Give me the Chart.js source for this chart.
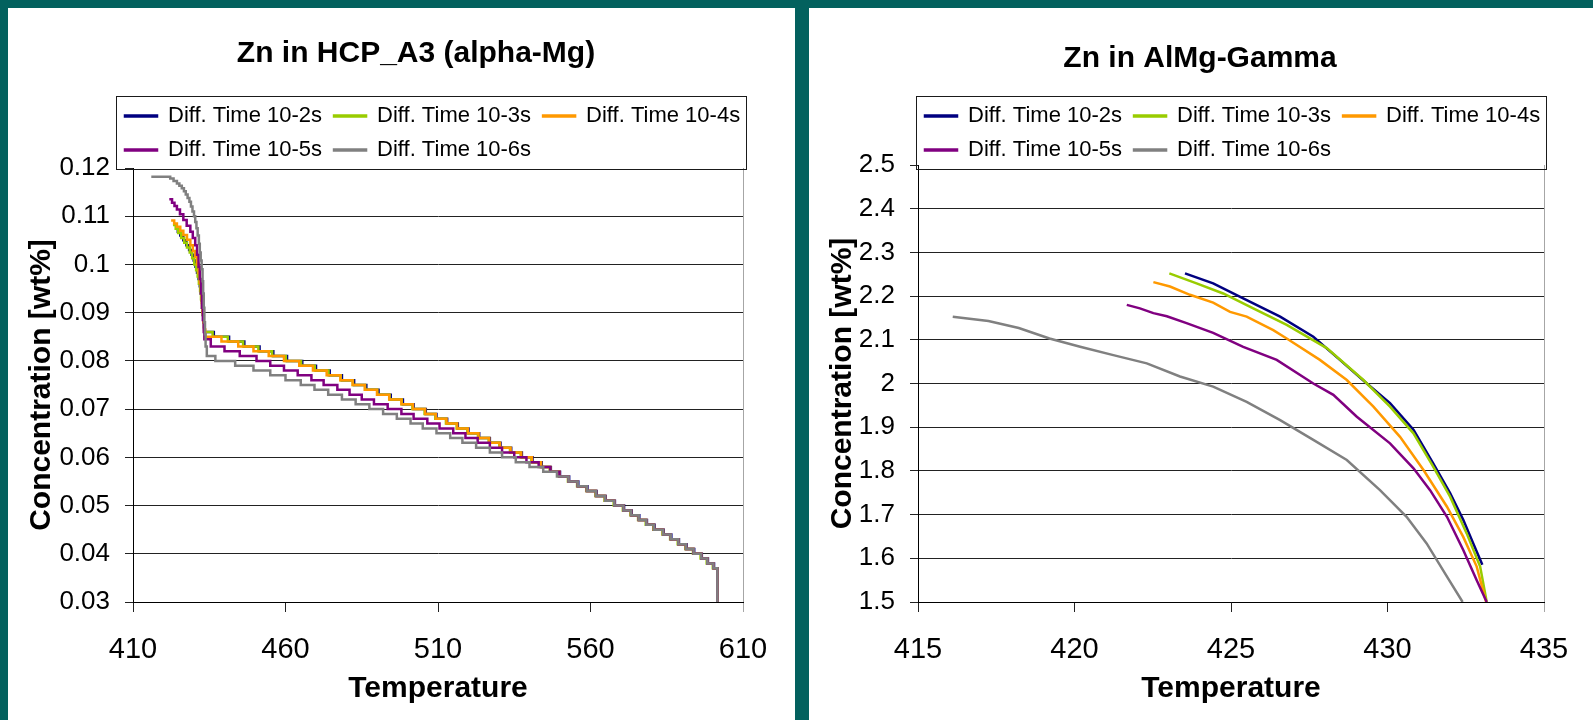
<!DOCTYPE html>
<html>
<head>
<meta charset="utf-8">
<script src="https://cdn.jsdelivr.net/npm/chart.js@4.4.0/dist/chart.umd.min.js"></script>
<style>
  html, body { margin: 0; padding: 0; background: #03615e; }
  body { width: 1593px; height: 720px; position: relative; overflow: hidden; }
  .panel { position: absolute; top: 8px; height: 712px; background: #fff; }
  #leftPanel { left: 8px; width: 787px; }
  #rightPanel { left: 809px; width: 784px; }
  canvas { display: block; }
</style>
</head>
<body>
<div class="panel" id="leftPanel"><canvas id="hcpChart" width="787" height="712"></canvas></div>
<div class="panel" id="rightPanel"><canvas id="gammaChart" width="784" height="712"></canvas></div>
<script>
const seriesNames = ['Diff. Time 10-2s', 'Diff. Time 10-3s', 'Diff. Time 10-4s', 'Diff. Time 10-5s', 'Diff. Time 10-6s'];
const seriesColors = ['#000080', '#99cc00', '#ff9900', '#800080', '#808080'];

// Zn in HCP_A3 (alpha-Mg): temperature where each concentration step starts
const hcpTemp2s = [423.9, 424.7, 425.5, 426.5, 427.5, 428.4, 429.2, 429.9, 430.5, 431, 431.5, 431.9, 432.2, 432.5, 432.7, 432.9, 433.1, 433.3, 433.5, 436.5, 441.5, 446.5, 451.5, 456, 460.5, 465.5, 470, 474.5, 478.5, 482.5, 486.5, 490.5, 494.5, 498.5, 502, 506, 509.5, 513, 516.5, 520, 523.5, 527, 530.5, 534, 537.5, 541, 544, 547, 550, 553, 556, 559, 562, 565, 568, 571, 573.5, 576, 578.5, 581, 584, 586.5, 589, 591.5, 594, 596.5, 598.5, 600.5, 601.6];
const hcpConc2s = [0.1075, 0.1068, 0.106, 0.105, 0.104, 0.103, 0.102, 0.1008, 0.0995, 0.0983, 0.097, 0.0955, 0.094, 0.0925, 0.091, 0.0895, 0.088, 0.087, 0.086, 0.085, 0.084, 0.083, 0.082, 0.081, 0.080, 0.079, 0.078, 0.077, 0.076, 0.075, 0.074, 0.073, 0.072, 0.071, 0.070, 0.069, 0.068, 0.067, 0.066, 0.065, 0.064, 0.063, 0.062, 0.061, 0.060, 0.059, 0.058, 0.057, 0.056, 0.055, 0.054, 0.053, 0.052, 0.051, 0.050, 0.049, 0.048, 0.047, 0.046, 0.045, 0.044, 0.043, 0.042, 0.041, 0.040, 0.039, 0.038, 0.037, 0.030];

const hcpTemp3s = [423.1, 424, 424.8, 425.8, 426.8, 427.7, 428.6, 429.4, 430.1, 430.7, 431.2, 431.6, 432, 432.3, 432.6, 432.85, 433.1, 433.3, 433.5, 436.1, 441.1, 446.1, 451.1, 455.6, 460.1, 465.1, 469.6, 474.1, 478.1, 482.1, 486.1, 490.1, 494.1, 498.1, 501.6, 505.6, 509.1, 512.6, 516.1, 519.6, 523.1, 526.6, 530.1, 533.6, 537.1, 540.6, 543.6, 546.6, 549.6, 552.6, 555.6, 558.6, 561.6, 564.6, 567.6, 570.6, 573.1, 575.6, 578.1, 580.6, 583.6, 586.1, 588.6, 591.1, 593.6, 596.1, 598.1, 600.1, 601.6];
const hcpConc3s = [0.1082, 0.1074, 0.1065, 0.1055, 0.1045, 0.1035, 0.1025, 0.1013, 0.100, 0.0988, 0.0975, 0.096, 0.0945, 0.0928, 0.091, 0.0895, 0.088, 0.087, 0.086, 0.085, 0.084, 0.083, 0.082, 0.081, 0.080, 0.079, 0.078, 0.077, 0.076, 0.075, 0.074, 0.073, 0.072, 0.071, 0.070, 0.069, 0.068, 0.067, 0.066, 0.065, 0.064, 0.063, 0.062, 0.061, 0.060, 0.059, 0.058, 0.057, 0.056, 0.055, 0.054, 0.053, 0.052, 0.051, 0.050, 0.049, 0.048, 0.047, 0.046, 0.045, 0.044, 0.043, 0.042, 0.041, 0.040, 0.039, 0.038, 0.037, 0.030];

const hcpTemp4s = [422.5, 423.5, 424.4, 425.5, 426.5, 427.7, 428.8, 429.6, 430.4, 431, 431.5, 431.9, 432.3, 432.55, 432.8, 433.05, 433.3, 433.7, 439, 444.5, 449.5, 454.5, 459.5, 464.5, 469, 473.5, 478, 482, 486, 490, 494, 498, 501.8, 505.8, 509.3, 512.8, 516.3, 519.8, 523.3, 526.8, 530.3, 533.8, 537.3, 540.8, 543.8, 546.8, 549.8, 552.8, 555.8, 558.8, 561.8, 564.8, 567.8, 570.8, 573.3, 575.8, 578.3, 580.8, 583.8, 586.3, 588.8, 591.3, 593.8, 596.3, 598.3, 600.3, 601.6];
const hcpConc4s = [0.1091, 0.1085, 0.1078, 0.107, 0.1061, 0.1051, 0.104, 0.1028, 0.1016, 0.100, 0.0982, 0.0962, 0.094, 0.092, 0.090, 0.088, 0.0865, 0.085, 0.084, 0.083, 0.082, 0.081, 0.080, 0.079, 0.078, 0.077, 0.076, 0.075, 0.074, 0.073, 0.072, 0.071, 0.070, 0.069, 0.068, 0.067, 0.066, 0.065, 0.064, 0.063, 0.062, 0.061, 0.060, 0.059, 0.058, 0.057, 0.056, 0.055, 0.054, 0.053, 0.052, 0.051, 0.050, 0.049, 0.048, 0.047, 0.046, 0.045, 0.044, 0.043, 0.042, 0.041, 0.040, 0.039, 0.038, 0.037, 0.030];

const hcpTemp5s = [421.9, 422.8, 423.6, 424.4, 425.4, 426.5, 427.6, 428.8, 429.6, 430.4, 431, 431.5, 431.9, 432.3, 432.6, 432.9, 433.2, 433.4, 435.5, 440, 445, 450.5, 455, 459.5, 464, 468.5, 472.5, 477, 481, 485, 489, 493.5, 498, 502, 506.5, 510.5, 515, 519, 523, 527, 531, 535, 539, 543, 546.8, 549.8, 552.8, 555.8, 558.8, 561.8, 564.8, 567.8, 570.8, 573.3, 575.8, 578.3, 580.8, 583.8, 586.3, 588.8, 591.3, 593.8, 596.3, 598.3, 600.3, 601.6];
const hcpConc5s = [0.1135, 0.1128, 0.1121, 0.1114, 0.1104, 0.1092, 0.108, 0.1068, 0.1055, 0.104, 0.102, 0.0995, 0.097, 0.094, 0.091, 0.0885, 0.086, 0.0845, 0.083, 0.082, 0.081, 0.080, 0.079, 0.078, 0.077, 0.076, 0.075, 0.074, 0.073, 0.072, 0.071, 0.070, 0.069, 0.068, 0.067, 0.066, 0.065, 0.064, 0.063, 0.062, 0.061, 0.060, 0.059, 0.058, 0.057, 0.056, 0.055, 0.054, 0.053, 0.052, 0.051, 0.050, 0.049, 0.048, 0.047, 0.046, 0.045, 0.044, 0.043, 0.042, 0.041, 0.040, 0.039, 0.038, 0.037, 0.030];

const hcpTemp6s = [416, 422.2, 423.3, 424.4, 425.2, 426, 426.7, 427.3, 427.9, 428.5, 429, 429.5, 430, 430.4, 430.8, 431.2, 431.6, 431.9, 432.2, 432.5, 432.8, 433, 433.2, 433.4, 433.6, 433.8, 434.2, 437, 443.5, 449.5, 455, 460, 465, 469.5, 474, 478.5, 483, 487.5, 492, 496.5, 501, 505, 509.5, 514, 518, 522.5, 527, 531, 535.5, 540, 544.5, 549, 552.8, 555.8, 558.8, 561.8, 564.8, 567.8, 570.8, 573.3, 575.8, 578.3, 580.8, 583.8, 586.3, 588.8, 591.3, 593.8, 596.3, 598.3, 600.3, 601.6];
const hcpConc6s = [0.1182, 0.1178, 0.1173, 0.1168, 0.1163, 0.1158, 0.1152, 0.1145, 0.1138, 0.113, 0.112, 0.111, 0.110, 0.1088, 0.1075, 0.106, 0.1043, 0.1025, 0.1008, 0.099, 0.0965, 0.094, 0.091, 0.088, 0.0855, 0.083, 0.081, 0.080, 0.079, 0.078, 0.077, 0.076, 0.075, 0.074, 0.073, 0.072, 0.071, 0.070, 0.069, 0.068, 0.067, 0.066, 0.065, 0.064, 0.063, 0.062, 0.061, 0.060, 0.059, 0.058, 0.057, 0.056, 0.055, 0.054, 0.053, 0.052, 0.051, 0.050, 0.049, 0.048, 0.047, 0.046, 0.045, 0.044, 0.043, 0.042, 0.041, 0.040, 0.039, 0.038, 0.037, 0.030];

const hcpXTicks = [410, 460, 510, 560, 610];
const hcpXLabels = ['410', '460', '510', '560', '610'];
const hcpYTicks = [0.03, 0.04, 0.05, 0.06, 0.07, 0.08, 0.09, 0.1, 0.11, 0.12];
const hcpYLabels = ['0.03', '0.04', '0.05', '0.06', '0.07', '0.08', '0.09', '0.1', '0.11', '0.12'];

// Zn in AlMg-Gamma
const gammaTemp2s = [423.53, 424.43, 425.39, 426.57, 427.63, 428.48, 429.34, 430.08, 430.83, 431.46, 432.0, 432.42, 432.74, 433.03];
const gammaConc2s = [2.252, 2.229, 2.195, 2.153, 2.107, 2.054, 2.000, 1.955, 1.894, 1.817, 1.749, 1.688, 1.634, 1.585];
const gammaTemp3s = [423.03, 423.9, 424.75, 425.71, 426.78, 428.06, 429.23, 430.08, 430.83, 431.46, 432.0, 432.53, 432.96, 433.17];
const gammaConc3s = [2.252, 2.229, 2.206, 2.172, 2.134, 2.081, 2.008, 1.947, 1.886, 1.810, 1.741, 1.657, 1.581, 1.50];
const gammaTemp4s = [422.52, 423.05, 423.69, 424.43, 424.97, 425.5, 426.35, 426.78, 427.84, 428.7, 429.55, 430.4, 431.15, 431.9, 432.42, 432.85, 433.15];
const gammaConc4s = [2.232, 2.222, 2.203, 2.185, 2.164, 2.153, 2.122, 2.103, 2.054, 2.008, 1.947, 1.878, 1.802, 1.718, 1.649, 1.581, 1.50];
const gammaTemp5s = [421.67, 422.09, 422.52, 422.95, 423.58, 424.43, 425.39, 426.46, 427.63, 428.27, 429.02, 430.08, 430.83, 431.36, 431.9, 432.42, 432.85, 433.17];
const gammaConc5s = [2.180, 2.172, 2.161, 2.154, 2.138, 2.116, 2.084, 2.054, 2.000, 1.974, 1.924, 1.863, 1.806, 1.756, 1.695, 1.619, 1.550, 1.50];
const gammaTemp6s = [416.11, 417.25, 418.22, 419.2, 420.18, 421.24, 422.31, 423.37, 424.43, 425.5, 426.57, 427.63, 428.7, 429.76, 430.61, 431.25, 431.9, 432.4];
const gammaConc6s = [2.153, 2.143, 2.127, 2.103, 2.084, 2.065, 2.046, 2.016, 1.993, 1.958, 1.916, 1.871, 1.825, 1.756, 1.695, 1.634, 1.558, 1.50];

const gammaXTicks = [415, 420, 425, 430, 435];
const gammaXLabels = ['415', '420', '425', '430', '435'];
const gammaYTicks = [1.5, 1.6, 1.7, 1.8, 1.9, 2.0, 2.1, 2.2, 2.3, 2.4, 2.5];
const gammaYLabels = ['1.5', '1.6', '1.7', '1.8', '1.9', '2', '2.1', '2.2', '2.3', '2.4', '2.5'];

Chart.defaults.font.family = "'Liberation Sans', Arial, Helvetica, sans-serif";
Chart.defaults.color = '#000';

// moves the legend and title to where Excel put them and draws the legend frame
const legendFrame = {
  id: 'legendFrame',
  afterLayout(chart, args, opts) {
    const lg = chart.legend;
    const w = lg.right - lg.left;
    lg.left = opts.left;
    lg.right = opts.left + w;
    lg.top += opts.dy;
    lg.bottom += opts.dy;
    const t = chart.titleBlock;
    t.left += opts.titleDx;
    t.right += opts.titleDx;
  },
  afterDraw(chart) {
    const hb = chart.legend.legendHitBoxes;
    if (!hb || !hb.length) return;
    const ctx = chart.ctx;
    const left = Math.round(hb[0].left - 9) + 0.5;
    const right = Math.round(Math.max(...hb.map(b => b.left + b.width)) + 6) + 0.5;
    const top = Math.round(hb[0].top - 9) + 0.5;
    const bottom = Math.round(hb[hb.length - 1].top + 30) + 0.5;
    ctx.save();
    ctx.strokeStyle = '#1a1a1a';
    ctx.lineWidth = 1;
    ctx.strokeRect(left, top, right - left, bottom - top);
    ctx.restore();
  }
};

function pairs(ts, cs) {
  return ts.map((t, i) => ({ x: t, y: cs[i] }));
}

function makeChart(id, title, temps, concs, xTicks, xLabels, yTicks, yLabels, look) {
  const lastX = xTicks.length - 1;
  const lastY = yTicks.length - 1;
  return new Chart(document.getElementById(id), {
    type: 'line',
    data: {
      datasets: seriesNames.map((name, k) => ({
        label: name,
        data: pairs(temps[k], concs[k]),
        borderColor: seriesColors[k],
        backgroundColor: seriesColors[k],
        borderWidth: 2.5,
        pointRadius: 0,
        tension: 0,
        fill: false,
        stepped: look.stepped,
        order: seriesNames.length - 1 - k
      }))
    },
    options: {
      responsive: false,
      animation: false,
      layout: { padding: { left: 0, right: look.padRight, top: 0, bottom: 0 } },
      plugins: {
        title: {
          display: true,
          text: title,
          color: '#000',
          font: { size: 30, weight: 'bold' },
          padding: { top: look.titleTop, bottom: look.titleBottom }
        },
        legend: {
          position: 'top',
          align: 'start',
          labels: {
            font: { size: 22 },
            color: '#000',
            boxWidth: 32,
            boxHeight: 1,
            padding: 12,
            sort: (a, b) => a.datasetIndex - b.datasetIndex
          }
        },
        tooltip: { enabled: false },
        legendFrame: { left: look.legendLeft, dy: look.legendDy, titleDx: look.titleDx }
      },
      scales: {
        x: {
          type: 'linear',
          min: xTicks[0],
          max: xTicks[lastX],
          afterBuildTicks: s => { s.ticks = xTicks.map(v => ({ value: v })); },
          afterFit: s => { s.height = 118; },
          ticks: { callback: (v, i) => xLabels[i], font: { size: 29 }, padding: 20.6, maxRotation: 0, autoSkip: false },
          grid: {
            color: c => c.index === lastX ? '#a6a6a6' : 'rgba(0,0,0,0)',
            tickColor: c => c.index === lastX ? '#a6a6a6' : '#222',
            tickLength: 10
          },
          border: { color: '#000', width: 1 },
          title: { display: true, text: 'Temperature', font: { size: 30, weight: 'bold' }, padding: { top: 0, bottom: 13.5 } }
        },
        y: {
          type: 'linear',
          min: yTicks[0],
          max: yTicks[lastY],
          afterBuildTicks: s => { s.ticks = yTicks.map(v => ({ value: v })); },
          afterFit: s => { s.width = look.yWidth; },
          ticks: { callback: (v, i) => yLabels[i], font: { size: 26 }, padding: 15, autoSkip: false },
          grid: {
            color: c => c.index === lastY ? 'rgba(0,0,0,0)' : '#222',
            tickColor: '#222',
            tickLength: 8
          },
          border: { color: '#000', width: 1 },
          title: { display: true, text: 'Concentration [wt%]', font: { size: 30, weight: 'bold' }, padding: { top: 16, bottom: 0 } }
        }
      }
    },
    plugins: [legendFrame]
  });
}

makeChart('hcpChart', 'Zn in HCP_A3 (alpha-Mg)',
  [hcpTemp2s, hcpTemp3s, hcpTemp4s, hcpTemp5s, hcpTemp6s],
  [hcpConc2s, hcpConc3s, hcpConc4s, hcpConc5s, hcpConc6s],
  hcpXTicks, hcpXLabels, hcpYTicks, hcpYLabels,
  { stepped: 'before', padRight: 52, yWidth: 125, titleTop: 27.5, titleBottom: 18.5, legendLeft: 105, legendDy: 3, titleDx: 40.5 });

makeChart('gammaChart', 'Zn in AlMg-Gamma',
  [gammaTemp2s, gammaTemp3s, gammaTemp4s, gammaTemp5s, gammaTemp6s],
  [gammaConc2s, gammaConc3s, gammaConc4s, gammaConc5s, gammaConc6s],
  gammaXTicks, gammaXLabels, gammaYTicks, gammaYLabels,
  { stepped: false, padRight: 49, yWidth: 109, titleTop: 32.5, titleBottom: 10.5, legendLeft: 104, legendDy: 6, titleDx: 23.5 });
</script>
</body>
</html>
